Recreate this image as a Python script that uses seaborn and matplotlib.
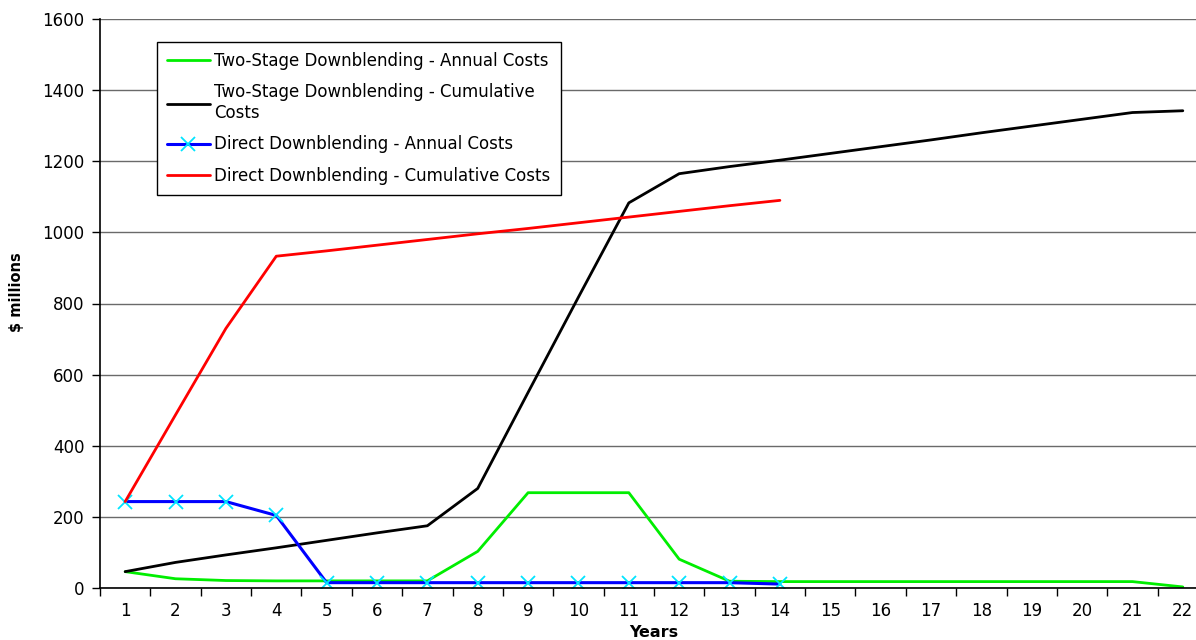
import numpy as np
import pandas as pd
import matplotlib
matplotlib.use("Agg")
import matplotlib.pyplot as plt
import seaborn as sns

years = list(range(1, 23))

two_stage_annual = [46, 26, 21, 20, 20, 20, 20, 103, 268, 268, 268, 81,
                    19, 18, 18, 18, 18, 18, 18, 18, 18, 3]
two_stage_cumulative = [46, 72, 93, 113, 134, 155, 175, 280, 550, 818, 1083, 1165,
                        1185, 1203, 1222, 1241, 1260, 1280, 1299, 1318, 1337, 1342]
direct_years = list(range(1, 15))
direct_annual = [243, 243, 243, 204, 15, 15, 15, 15, 15, 15, 15, 15, 15, 11]
direct_cumulative = [243, 487, 730, 933, 948, 964, 980, 996, 1011, 1027,
                     1043, 1059, 1075, 1090]

labels = [
    "Two-Stage Downblending - Annual Costs",
    "Two-Stage Downblending - Cumulative\nCosts",
    "Direct Downblending - Annual Costs",
    "Direct Downblending - Cumulative Costs",
]
y_ticks = [0, 200, 400, 600, 800, 1000, 1200, 1400, 1600]

sns.set_theme(style="white")
plt.rcParams["font.family"] = ["DejaVu Sans"]
plt.rcParams.update({"text.color": "black", "axes.labelcolor": "black",
                     "xtick.color": "black", "ytick.color": "black"})

W, H = 1196, 640
fig = plt.figure(figsize=(W / 100, H / 100), dpi=100)
left, right, top, bottom = 100, 1208, 19, 588
ax = fig.add_axes([left / W, 1 - bottom / H, (right - left) / W, (bottom - top) / H])

df_two = pd.DataFrame({"year": years, "annual": two_stage_annual,
                       "cum": two_stage_cumulative})
df_dir = pd.DataFrame({"year": direct_years, "annual": direct_annual,
                       "cum": direct_cumulative})

sns.lineplot(data=df_two, x="year", y="annual", ax=ax, color="#00ee00", lw=2,
             label=labels[0])
sns.lineplot(data=df_two, x="year", y="cum", ax=ax, color="black", lw=2,
             label=labels[1])
sns.lineplot(data=df_dir, x="year", y="annual", ax=ax, color="#0000ff", lw=2.2,
             marker="x", markersize=10, markeredgecolor="#00e5ff",
             markeredgewidth=1.3, label=labels[2])
sns.lineplot(data=df_dir, x="year", y="cum", ax=ax, color="#ff0000", lw=2,
             label=labels[3])

ax.set_xlim(0.5, 22.5)
ax.set_ylim(0, 1600)
ax.set_yticks(y_ticks)
ax.set_yticklabels([str(v) for v in y_ticks], fontsize=12)
ax.yaxis.grid(True, color="#6a6a6a", lw=1)
ax.xaxis.grid(False)
ax.set_axisbelow(True)

ax.set_xticks(years)
ax.set_xticklabels([str(y) for y in years], fontsize=12)
ax.set_xticks(np.arange(0.5, 23, 1), minor=True)
ax.tick_params(axis="x", which="major", length=0, pad=10)
ax.tick_params(axis="x", which="minor", length=6, width=1, color="black",
               direction="out", bottom=True)
ax.tick_params(axis="y", which="major", length=6, width=1, color="black",
               direction="out", left=True, pad=5)

for side in ["top", "right"]:
    ax.spines[side].set_visible(False)
for side in ["left", "bottom"]:
    ax.spines[side].set_color("black")
    ax.spines[side].set_linewidth(1.2)

ax.set_xlabel("Years", fontsize=11.5, fontweight="bold", labelpad=3.5)
ax.set_ylabel(r"\$ millions", fontsize=10.5, fontweight="bold")
ax.yaxis.set_label_coords((24 - left) / (right - left), 0.52)

leg = ax.legend(loc="upper left",
                bbox_to_anchor=((157 - left) / (right - left), (bottom - 42) / (bottom - top)),
                borderaxespad=0, fontsize=12, frameon=True, fancybox=False,
                handlelength=2.55, handletextpad=0.3, labelspacing=0.8,
                borderpad=0.6)
leg.get_frame().set_edgecolor("black")
leg.get_frame().set_linewidth(1)
leg.get_frame().set_alpha(1)
for t in leg.get_texts():
    t.set_color("black")

fig.savefig("out.png", dpi=100)
